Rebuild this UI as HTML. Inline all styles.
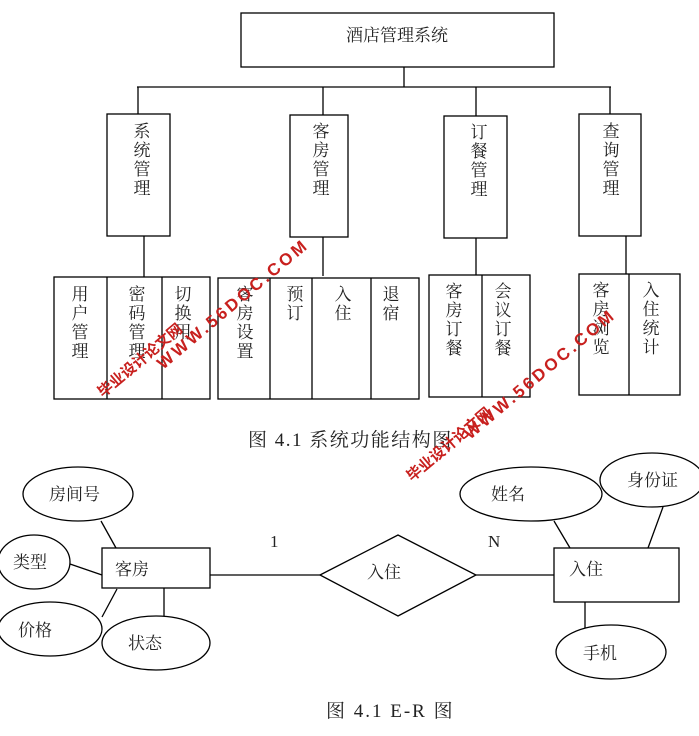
<!DOCTYPE html>
<html><head><meta charset="utf-8"><style>
html,body{margin:0;padding:0;background:#fff;width:699px;height:736px;overflow:hidden}
svg text{font-family:"Liberation Serif","Noto Serif CJK SC","Noto Sans CJK SC",serif;fill:#222}
.w{font-family:"Liberation Sans","Noto Sans CJK SC",sans-serif;fill:#c8201e;font-weight:bold}
</style></head><body>
<svg width="699" height="736" viewBox="0 0 699 736" xmlns="http://www.w3.org/2000/svg" stroke="#000" stroke-width="1.3" fill="none">
<rect x="241" y="13" width="313" height="54" fill="#fff"/>
<text x="397" y="41" font-size="17" text-anchor="middle" stroke="none">酒店管理系统</text>
<line x1="404" y1="67" x2="404" y2="87"/>
<line x1="137" y1="87" x2="611" y2="87"/>
<line x1="138" y1="87" x2="138" y2="114"/>
<line x1="323" y1="87" x2="323" y2="115"/>
<line x1="476" y1="87" x2="476" y2="116"/>
<line x1="610" y1="87" x2="610" y2="114"/>
<rect x="107" y="114" width="63" height="122"/>
<rect x="290" y="115" width="58" height="122"/>
<rect x="444" y="116" width="63" height="122"/>
<rect x="579" y="114" width="62" height="122"/>
<g stroke="none" font-size="17" text-anchor="middle">
<text x="142" y="137">系</text><text x="142" y="156">统</text><text x="142" y="175">管</text><text x="142" y="194">理</text>
<text x="321" y="137">客</text><text x="321" y="156">房</text><text x="321" y="175">管</text><text x="321" y="194">理</text>
<text x="479" y="138">订</text><text x="479" y="157">餐</text><text x="479" y="176">管</text><text x="479" y="195">理</text>
<text x="611" y="137">查</text><text x="611" y="156">询</text><text x="611" y="175">管</text><text x="611" y="194">理</text>
</g>
<line x1="144" y1="236" x2="144" y2="277"/>
<line x1="323" y1="237" x2="323" y2="276"/>
<line x1="476" y1="238" x2="476" y2="275"/>
<line x1="626" y1="236" x2="626" y2="274"/>
<rect x="54" y="277" width="156" height="122"/>
<line x1="107" y1="277" x2="107" y2="399"/><line x1="162" y1="277" x2="162" y2="399"/>
<rect x="218" y="278" width="201" height="121"/>
<line x1="270" y1="278" x2="270" y2="399"/><line x1="312" y1="278" x2="312" y2="399"/><line x1="371" y1="278" x2="371" y2="399"/>
<rect x="429" y="275" width="101" height="122"/>
<line x1="482" y1="275" x2="482" y2="397"/>
<rect x="579" y="274" width="101" height="121"/>
<line x1="629" y1="274" x2="629" y2="395"/>
<g stroke="none" font-size="17" text-anchor="middle">
<text x="80" y="300">用</text><text x="80" y="319">户</text><text x="80" y="338">管</text><text x="80" y="357">理</text>
<text x="137" y="300">密</text><text x="137" y="319">码</text><text x="137" y="338">管</text><text x="137" y="357">理</text>
<text x="183" y="300">切</text><text x="183" y="319">换</text><text x="183" y="338">用</text>
<text x="245" y="300">客</text><text x="245" y="319">房</text><text x="245" y="338">设</text><text x="245" y="357">置</text>
<text x="295" y="300">预</text><text x="295" y="319">订</text>
<text x="343" y="300">入</text><text x="343" y="319">住</text>
<text x="391" y="300">退</text><text x="391" y="319">宿</text>
<text x="454" y="297">客</text><text x="454" y="316">房</text><text x="454" y="335">订</text><text x="454" y="354">餐</text>
<text x="503" y="297">会</text><text x="503" y="316">议</text><text x="503" y="335">订</text><text x="503" y="354">餐</text>
<text x="601" y="296">客</text><text x="601" y="315">房</text><text x="601" y="334">浏</text><text x="601" y="353">览</text>
<text x="651" y="296">入</text><text x="651" y="315">住</text><text x="651" y="334">统</text><text x="651" y="353">计</text>
</g>
<text x="248" y="446" font-size="19" letter-spacing="1.5" stroke="none">图 4.1 系统功能结构图</text>
<!-- ER -->
<rect x="102" y="548" width="108" height="40"/>
<rect x="554" y="548" width="125" height="54"/>
<polygon points="320,575 398,535 476,575 398,616"/>
<line x1="210" y1="575" x2="320" y2="575"/>
<line x1="476" y1="575" x2="554" y2="575"/>
<ellipse cx="78" cy="494" rx="55" ry="27"/>
<ellipse cx="34" cy="562" rx="36" ry="27"/>
<ellipse cx="50" cy="629" rx="52" ry="27"/>
<ellipse cx="156" cy="643" rx="54" ry="27"/>
<ellipse cx="531" cy="494" rx="71" ry="27"/>
<ellipse cx="652" cy="480" rx="52" ry="27"/>
<ellipse cx="611" cy="652" rx="55" ry="27"/>
<line x1="101" y1="521" x2="116" y2="548"/>
<line x1="70" y1="564" x2="102" y2="575"/>
<line x1="117" y1="589" x2="102" y2="617"/>
<line x1="164" y1="588" x2="164" y2="616"/>
<line x1="554" y1="521" x2="570" y2="548"/>
<line x1="663" y1="507" x2="648" y2="548"/>
<line x1="585" y1="602" x2="585" y2="628"/>
<g stroke="none" font-size="17">
<text x="49" y="500">房间号</text>
<text x="13" y="568">类型</text>
<text x="18" y="636">价格</text>
<text x="128" y="649">状态</text>
<text x="115" y="575">客房</text>
<text x="367" y="578">入住</text>
<text x="569" y="575">入住</text>
<text x="491" y="500">姓名</text>
<text x="627" y="486">身份证</text>
<text x="583" y="659">手机</text>
<text x="270" y="547">1</text>
<text x="488" y="547">N</text>
</g>
<text x="326" y="717" font-size="19" letter-spacing="2" stroke="none">图 4.1 E-R 图</text>
<!-- watermarks -->
<g stroke="none">
<text class="w" font-size="15" transform="translate(103,398) rotate(-40)">毕业设计论文网</text>
<text class="w" font-size="17" letter-spacing="3" transform="translate(163,370) rotate(-40)">WWW.56DOC.COM</text>
<text class="w" font-size="15" transform="translate(412,482) rotate(-40)">毕业设计论文网</text>
<text class="w" font-size="17" letter-spacing="3" transform="translate(470,440) rotate(-40)">WWW.56DOC.COM</text>
</g>
</svg>
</body></html>
